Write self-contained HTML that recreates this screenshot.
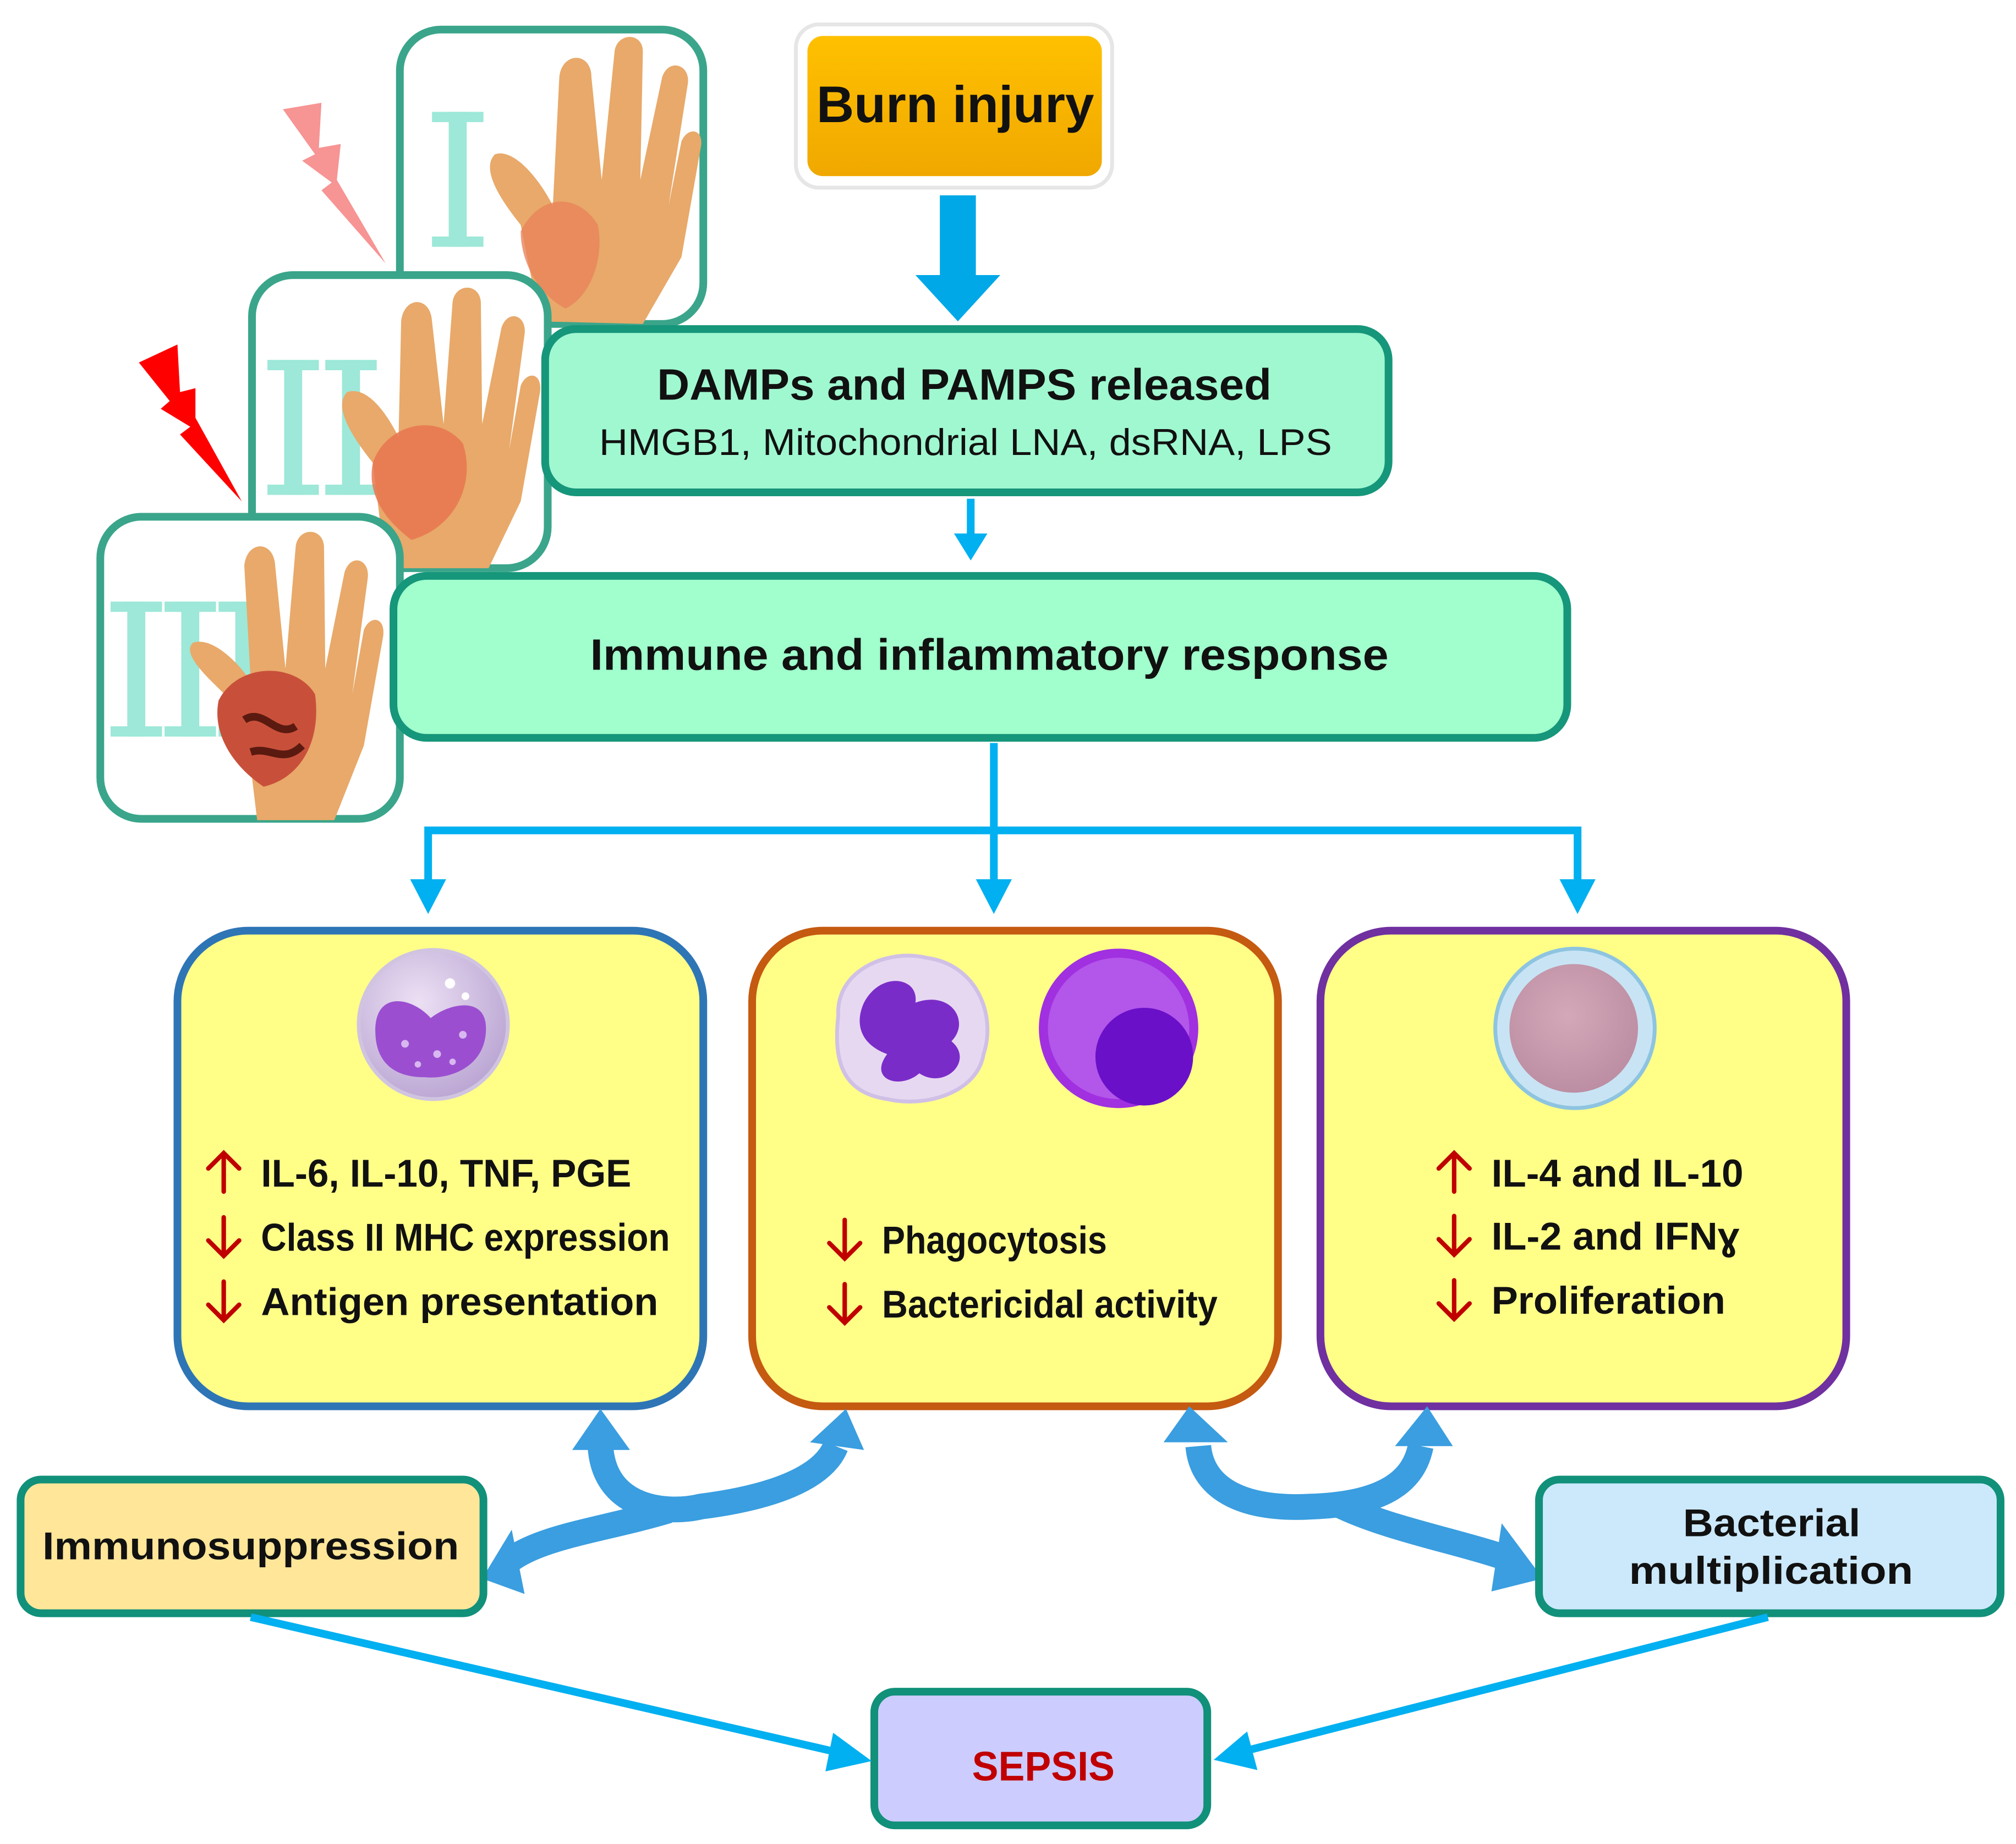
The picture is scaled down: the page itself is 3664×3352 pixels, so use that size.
<!DOCTYPE html>
<html><head><meta charset="utf-8"><style>
html,body{margin:0;padding:0;background:#fff;}
svg{display:block;}
text{font-family:"Liberation Sans",sans-serif;}
</style></head><body>
<svg width="3664" height="3352" viewBox="0 0 1568 1434.5" xmlns="http://www.w3.org/2000/svg">
<defs>
<linearGradient id="org" x1="0" y1="0" x2="0" y2="1"><stop offset="0" stop-color="#ffc000"/><stop offset="1" stop-color="#f0a800"/></linearGradient>
<radialGradient id="c1" cx="0.4" cy="0.35" r="0.7"><stop offset="0" stop-color="#ece0f4"/><stop offset="1" stop-color="#b9a4d2"/></radialGradient>
<radialGradient id="c3" cx="0.45" cy="0.4" r="0.7"><stop offset="0" stop-color="#d4a8b8"/><stop offset="1" stop-color="#b98aa0"/></radialGradient>
<g id="rn"><rect x="-20" y="0" width="40" height="8"/><rect x="-7" y="0" width="14" height="105"/><rect x="-20" y="97" width="40" height="8"/></g>
</defs>

<!-- Hand frames -->
<rect x="311" y="23" width="236" height="229" rx="32" fill="#fff" stroke="#3aa58a" stroke-width="6"/>
<g fill="#9de8d8"><use href="#rn" x="356" y="87"/></g>
<path d="M420,250 L405,175 C385,150 375,130 385,120 C400,115 420,140 430,160 L435,60 C437,40 460,40 460,60 L468,140 L478,40 C480,25 500,25 500,40 L498,140 L515,60 C520,45 537,50 535,65 L520,160 L530,110 C535,98 548,100 545,115 L530,200 L500,252 Z" fill="#e8a96a"/>
<path d="M405,180 C420,150 450,150 465,175 C470,200 460,230 440,240 C420,230 405,205 405,180Z" fill="#e8835a" opacity="0.8"/>
<rect x="196" y="214" width="230" height="228" rx="32" fill="#fff" stroke="#3aa58a" stroke-width="6"/>
<g fill="#9de8d8"><use href="#rn" x="228" y="280"/><use href="#rn" x="273" y="280"/></g>
<path d="M300,442 L290,360 C270,335 260,315 270,305 C285,300 300,320 310,340 L312,250 C314,230 335,230 336,250 L345,330 L352,235 C354,220 373,220 374,235 L375,330 L390,255 C395,240 410,245 408,260 L396,350 L405,300 C410,288 422,290 420,305 L405,390 L380,442 Z" fill="#e8a96a"/>
<path d="M290,360 C300,330 340,320 360,345 C370,375 355,410 320,420 C300,405 285,385 290,360Z" fill="#e8754f" opacity="0.85"/>
<rect x="78" y="402" width="233" height="235" rx="32" fill="#fff" stroke="#3aa58a" stroke-width="6"/>
<g fill="#9de8d8"><use href="#rn" x="106" y="468"/><use href="#rn" x="148" y="468"/><use href="#rn" x="190" y="468"/></g>
<path d="M200,638 L190,555 C165,530 140,510 150,500 C165,495 185,515 195,530 L190,440 C192,420 213,420 214,440 L222,520 L230,425 C232,410 251,410 252,425 L253,520 L268,445 C273,430 288,435 286,450 L274,540 L283,490 C288,478 300,480 298,495 L283,580 L260,638 Z" fill="#e8a96a"/>
<path d="M170,545 C185,515 230,515 245,540 C250,575 235,605 205,612 C180,595 165,570 170,545Z" fill="#c8503a"/>
<path d="M190,560 C205,550 215,575 230,565 M195,585 C210,580 220,595 235,580" stroke="#5a1a10" stroke-width="6" fill="none"/>
<path d="M220,85 L250,80 L248,115 L265,112 L262,140 L300,205 L250,148 L258,142 L235,125 L245,120 Z" fill="#f79494"/>
<path d="M108,282 L138,268 L140,305 L152,302 L152,325 L188,390 L140,338 L148,332 L125,318 L132,312 Z" fill="#ff0000"/>

<!-- Burn injury -->
<rect x="619" y="19" width="246" height="127" rx="18" fill="#fff" stroke="#e6e6e6" stroke-width="3"/>
<rect x="628" y="28" width="229" height="109" rx="12" fill="url(#org)"/>
<text x="635" y="95" font-size="40" font-weight="bold" fill="#111" textLength="216" lengthAdjust="spacingAndGlyphs">Burn injury</text>
<path d="M731,152 L759,152 L759,214 L778,214 L745,250 L712,214 L731,214 Z" fill="#00a8e8"/>

<!-- DAMPs -->
<rect x="424" y="256" width="656" height="127" rx="24" fill="#a0f8d0" stroke="#16967a" stroke-width="6"/>
<text x="511" y="311" font-size="34" font-weight="bold" fill="#111" textLength="478" lengthAdjust="spacingAndGlyphs">DAMPs and PAMPS released</text>
<text x="466" y="354" font-size="29" fill="#111" textLength="570" lengthAdjust="spacingAndGlyphs">HMGB1, Mitochondrial LNA, dsRNA, LPS</text>
<line x1="755" y1="388" x2="755" y2="418" stroke="#00b0f0" stroke-width="6"/>
<path d="M742,415 L768,415 L755,436 Z" fill="#00b0f0"/>

<!-- Immune -->
<rect x="306" y="448" width="913" height="126" rx="26" fill="#a0ffcc" stroke="#16967a" stroke-width="6"/>
<text x="459" y="521" font-size="34" font-weight="bold" fill="#111" textLength="621" lengthAdjust="spacingAndGlyphs">Immune and inflammatory response</text>

<g stroke="#00b0f0" stroke-width="6" fill="none">
<line x1="773" y1="578" x2="773" y2="690"/>
<polyline points="333,690 333,646 1227,646 1227,690"/>
</g>
<g fill="#00b0f0">
<path d="M319,684 L347,684 L333,711 Z"/>
<path d="M759,684 L787,684 L773,711 Z"/>
<path d="M1213,684 L1241,684 L1227,711 Z"/>
</g>

<!-- Yellow boxes -->
<rect x="138" y="724" width="409" height="370" rx="55" fill="#ffff88" stroke="#2e75b6" stroke-width="6"/>
<rect x="585" y="724" width="409" height="370" rx="55" fill="#ffff88" stroke="#c55a11" stroke-width="6"/>
<rect x="1027" y="724" width="409" height="370" rx="55" fill="#ffff88" stroke="#7030a0" stroke-width="6"/>

<!-- cells -->
<circle cx="337" cy="797" r="58" fill="url(#c1)" stroke="#d0c4e0" stroke-width="3"/>
<path d="M292,805 C290,770 320,775 335,792 C350,780 378,775 378,800 C378,830 350,840 330,838 C305,838 293,825 292,805Z" fill="#9b4fd0"/>
<g fill="#d8b8f0"><circle cx="315" cy="812" r="3"/><circle cx="340" cy="820" r="3"/><circle cx="360" cy="805" r="3"/><circle cx="325" cy="828" r="2.5"/><circle cx="352" cy="826" r="2.5"/></g>
<g fill="#fff"><circle cx="350" cy="765" r="4"/><circle cx="362" cy="775" r="3"/></g>
<path d="M652,790 C650,755 690,738 720,745 C760,750 775,790 765,820 C760,850 720,862 690,855 C655,850 648,825 652,790Z" fill="#e7d8f2" stroke="#d0c0e6" stroke-width="3"/>
<path d="M672,780 C685,755 715,760 712,780 C740,770 755,795 740,810 C758,825 735,848 715,835 C700,848 675,840 690,820 C668,812 665,795 672,780Z" fill="#7a2cc8"/>
<ellipse cx="870" cy="800" rx="62" ry="62" fill="#a030e0"/>
<ellipse cx="870" cy="800" rx="55" ry="55" fill="#c070f0" opacity="0.6"/>
<circle cx="890" cy="822" r="38" fill="#6a10c8"/>
<circle cx="1225" cy="800" r="62" fill="#c8e4f4" stroke="#8ec4e0" stroke-width="3"/>
<circle cx="1224" cy="800" r="50" fill="url(#c3)"/>

<g font-size="30" font-weight="bold" fill="#111">
<text x="203" y="923" textLength="288" lengthAdjust="spacingAndGlyphs">IL-6, IL-10, TNF, PGE</text>
<text x="203" y="973" textLength="318" lengthAdjust="spacingAndGlyphs">Class II MHC expression</text>
<text x="203" y="1023" textLength="309" lengthAdjust="spacingAndGlyphs">Antigen presentation</text>
<text x="686" y="975" textLength="175" lengthAdjust="spacingAndGlyphs">Phagocytosis</text>
<text x="686" y="1025" textLength="261" lengthAdjust="spacingAndGlyphs">Bactericidal activity</text>
<text x="1160" y="923" textLength="196" lengthAdjust="spacingAndGlyphs">IL-4 and IL-10</text>
<text x="1160" y="972" textLength="193" lengthAdjust="spacingAndGlyphs">IL-2 and IFNɣ</text>
<text x="1160" y="1022" textLength="182" lengthAdjust="spacingAndGlyphs">Proliferation</text>
</g>
<g stroke="#c00000" stroke-width="3.5" fill="none" stroke-linecap="round">
<path d="M174,927 L174,897 M162,909 L174,897 L186,909"/>
<path d="M174,947 L174,977 M162,965 L174,977 L186,965"/>
<path d="M174,997 L174,1027 M162,1015 L174,1027 L186,1015"/>
<path d="M657,949 L657,979 M645,967 L657,979 L669,967"/>
<path d="M657,999 L657,1029 M645,1017 L657,1029 L669,1017"/>
<path d="M1131,927 L1131,897 M1119,909 L1131,897 L1143,909"/>
<path d="M1131,946 L1131,976 M1119,964 L1131,976 L1143,964"/>
<path d="M1131,996 L1131,1026 M1119,1014 L1131,1026 L1143,1014"/>
</g>

<!-- curved arrows -->
<g fill="none" stroke="#3a9ee0" stroke-width="20">
<path d="M467,1125 C470,1175 520,1178 545,1172 C600,1165 640,1150 650,1125"/>
<path d="M520,1175 C470,1190 420,1195 395,1215"/>
<path d="M932,1125 C935,1160 970,1175 1020,1172 C1080,1170 1100,1150 1105,1125"/>
<path d="M1040,1170 C1080,1190 1140,1200 1180,1215"/>
</g>
<g fill="#3a9ee0">
<path d="M445,1128 L490,1128 L467,1096 Z"/>
<path d="M630,1122 L672,1128 L658,1096 Z"/>
<path d="M905,1122 L955,1122 L925,1094 Z"/>
<path d="M1085,1125 L1130,1125 L1110,1094 Z"/>
<path d="M398,1190 L408,1240 L375,1228 Z"/>
<path d="M1168,1185 L1200,1228 L1160,1238 Z"/>
</g>

<!-- bottom boxes -->
<rect x="16" y="1151" width="360" height="104" rx="16" fill="#ffe699" stroke="#11907a" stroke-width="6"/>
<text x="33" y="1213" font-size="30" font-weight="bold" fill="#111" textLength="324" lengthAdjust="spacingAndGlyphs">Immunosuppression</text>
<rect x="1197" y="1151" width="359" height="104" rx="16" fill="#cce9fb" stroke="#11907a" stroke-width="6"/>
<text x="1309" y="1195" font-size="30" font-weight="bold" fill="#111" textLength="138" lengthAdjust="spacingAndGlyphs">Bacterial</text>
<text x="1267" y="1232" font-size="30" font-weight="bold" fill="#111" textLength="221" lengthAdjust="spacingAndGlyphs">multiplication</text>

<rect x="680" y="1316" width="259" height="104" rx="16" fill="#ccccff" stroke="#11907a" stroke-width="6"/>
<text x="756" y="1385" font-size="32" font-weight="bold" fill="#c00000" textLength="111" lengthAdjust="spacingAndGlyphs">SEPSIS</text>

<g stroke="#00b0f0" stroke-width="6">
<line x1="195" y1="1258" x2="655" y2="1364"/>
<line x1="1375" y1="1258" x2="965" y2="1363"/>
</g>
<g fill="#00b0f0">
<path d="M648,1348 L678,1370 L642,1378 Z"/>
<path d="M970,1347 L944,1369 L978,1377 Z"/>
</g>
</svg>
</body></html>
